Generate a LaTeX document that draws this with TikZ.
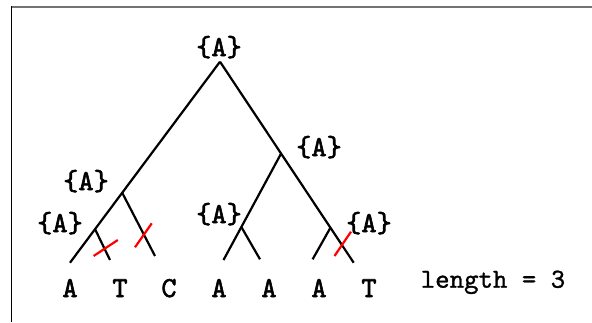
\documentclass[tikz,border=0pt]{standalone}
\usepackage{fontspec}
\newfontfamily\treefont{lmmono10-regular.otf}[FakeBold=2]
\newfontfamily\notefont{lmmono10-regular.otf}[FakeBold=1]
\usetikzlibrary{calc}
\begin{document}
\begin{tikzpicture}[x=1pt,y=-1pt,
  lbl/.style={font=\treefont\fontsize{29}{29}\selectfont, inner sep=0pt, anchor=base},
  note/.style={font=\notefont\fontsize{27.5}{27.5}\selectfont, inner sep=0pt, anchor=base},
  branch/.style={line width=2.2pt, black},
  cut/.style={line width=2.2pt, red}]
\useasboundingbox (0,0) rectangle (592,322);
\fill[white] (0,0) rectangle (592,322);
% frame
\draw[line width=2pt, black!55] (11,6.7) -- (592,6.7);
\draw[line width=1pt, black] (11.3,6) -- (11.3,322);
% tree vertices
\coordinate (root) at (220,61.7);
\coordinate (l1) at (70,262.7);
\coordinate (l2) at (110,260);
\coordinate (l3) at (155,256);
\coordinate (l4) at (223.5,260);
\coordinate (l5) at (260,259.3);
\coordinate (l6) at (312.6,259.3);
\coordinate (l7) at (353.7,262.7);
\coordinate (L) at ($(root)!0.652!(l1)$);
\coordinate (LL) at ($(root)!0.833!(l1)$);
\coordinate (R) at ($(root)!0.457!(l7)$);
\coordinate (RR) at ($(root)!0.826!(l7)$);
\coordinate (M) at ($(R)!0.69!(l4)$);
% branches
\draw[branch] (root) -- (L) -- (LL) -- (l1);
\draw[branch] (root) -- (R) -- (RR) -- (l7);
\draw[branch] (L) -- (l3);
\draw[branch] (LL) -- (l2);
\draw[branch] (R) -- (M) -- (l4);
\draw[branch] (M) -- (l5);
\draw[branch] (RR) -- (l6);
% changes
\coordinate (c1a) at (93.6,256); \coordinate (c1b) at (117.8,240);
\coordinate (c2a) at (135,247.3); \coordinate (c2b) at (151.8,223.3);
\coordinate (c3a) at (334.5,256); \coordinate (c3b) at (351,231.7);
\draw[cut] (c1a) -- (c1b);
\draw[cut] (c2a) -- (c2b);
\draw[cut] (c3a) -- (c3b);
% labels
\node[lbl] (sroot) at (219,56) {\{A\}};
\node[lbl] (sR) at (319,156) {\{A\}};
\node[lbl] (sL) at (86,190) {\{A\}};
\node[lbl] (sLL) at (60,232) {\{A\}};
\node[lbl] (sM) at (219,223) {\{A\}};
\node[lbl] (sRR) at (369,232) {\{A\}};
\node[lbl] (t1) at (70,297) {A};
\node[lbl] (t2) at (120,297) {T};
\node[lbl] (t3) at (169,297) {C};
\node[lbl] (t4) at (219,297) {A};
\node[lbl] (t5) at (269,297) {A};
\node[lbl] (t6) at (319,297) {A};
\node[lbl] (t7) at (369,297) {T};
\node[note] (len) at (493,287.7) {length = 3};
\end{tikzpicture}
\end{document}
